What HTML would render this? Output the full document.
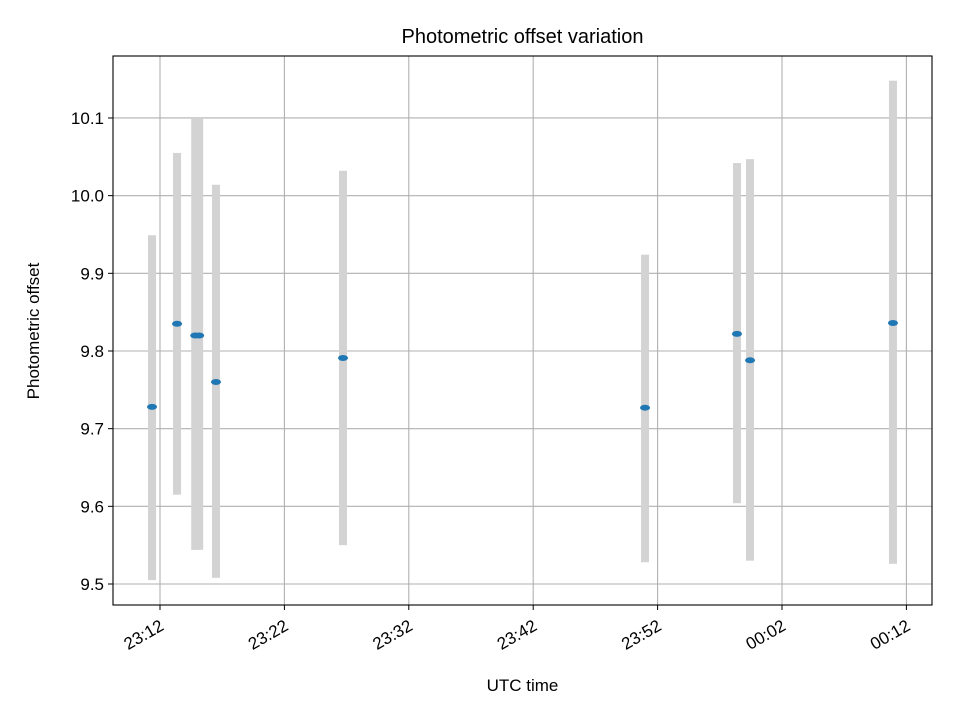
<!DOCTYPE html>
<html><head><meta charset="utf-8"><style>
body{margin:0;background:#fff;}
svg text{font-family:"Liberation Sans","DejaVu Sans",sans-serif;fill:#000;}
</style></head><body>
<svg id="chart" width="960" height="720"></svg>
<script>
const times = [11.36, 13.37, 14.83, 15.15, 16.50, 26.71, 50.99, 58.38, 59.43, 70.92]; // minutes after 23:00
const offsets = [9.728, 9.835, 9.820, 9.820, 9.760, 9.791, 9.727, 9.822, 9.788, 9.836];
const errTop = [9.949, 10.055, 10.100, 10.100, 10.014, 10.032, 9.924, 10.042, 10.047, 10.148];
const errBottom = [9.505, 9.615, 9.544, 9.544, 9.508, 9.550, 9.528, 9.604, 9.530, 9.526];
const xTicks = [12, 22, 32, 42, 52, 62, 72];
const xTickLabels = ["23:12","23:22","23:32","23:42","23:52","00:02","00:12"];
const yTicks = [9.5, 9.6, 9.7, 9.8, 9.9, 10.0, 10.1];
const yTickLabels = ["9.5","9.6","9.7","9.8","9.9","10.0","10.1"];

const L=113,R=932,T=56,B=605;
const xs = m => 160 + (m-12)*12.44;
const ys = v => 584 - (v-9.5)*776.7;
const svg = document.getElementById('chart');
const NS='http://www.w3.org/2000/svg';
function mk(tag, attrs, parent){const e=document.createElementNS(NS,tag);for(const k in attrs)e.setAttribute(k,attrs[k]);(parent||svg).appendChild(e);return e;}

xTicks.forEach((t,i)=>{
  const g=mk('line',{x1:xs(t),x2:xs(t),y1:T,y2:B,stroke:'#b0b0b0','stroke-width':1.1});
  
  
  const tk=mk('line',{x1:xs(t),x2:xs(t),y1:B,y2:B+5,stroke:'#000','stroke-width':1});
  
  
  const x=xs(t)+5, y=B+24;
  const tx=mk('text',{x:x,y:y,'font-size':17,'text-anchor':'end',transform:`rotate(-30 ${x} ${y})`});
  tx.textContent=xTickLabels[i];
  
  
});
yTicks.forEach((t,i)=>{
  const g=mk('line',{x1:L,x2:R,y1:ys(t),y2:ys(t),stroke:'#b0b0b0','stroke-width':1.1});
  
  
  const tk=mk('line',{x1:L-5,x2:L,y1:ys(t),y2:ys(t),stroke:'#000','stroke-width':1});
  
  
  const tx=mk('text',{x:L-9,y:ys(t)+6,'font-size':17,'text-anchor':'end'});
  tx.textContent=yTickLabels[i];
  
  
});
times.forEach((t,i)=>{
  const r=mk('rect',{x:xs(t)-4,y:ys(errTop[i]),width:8,height:ys(errBottom[i])-ys(errTop[i]),fill:'#d3d3d3'});
  
  
});
times.forEach((t,i)=>{
  const p=mk('ellipse',{cx:xs(t),cy:ys(offsets[i]),rx:5,ry:3,fill:'#1f77b4'});
  
  
});
const fr=mk('rect',{x:L,y:T,width:R-L,height:B-T,fill:'none',stroke:'#000','stroke-width':1.1});


const ti=mk('text',{x:(L+R)/2,y:43,'font-size':20,'text-anchor':'middle'});
ti.textContent='Photometric offset variation';


const xl=mk('text',{x:(L+R)/2,y:691,'font-size':17,'text-anchor':'middle'});
xl.textContent='UTC time';


const yl=mk('text',{x:39,y:331,'font-size':17,'text-anchor':'middle',transform:'rotate(-90 39 331)'});
yl.textContent='Photometric offset';


</script>
</body></html>
